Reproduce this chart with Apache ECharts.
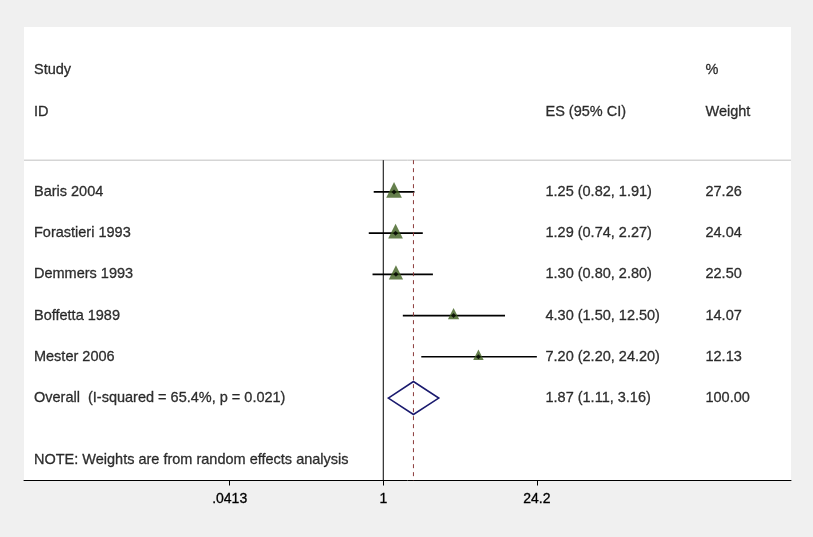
<html>
<head>
    <meta http-equiv="Content-Type" content="text/html; charset=utf-8" />
    <title>Forest plot</title>
    <style>
        html, body { margin: 0; padding: 0; background: #f0f0f0; }
        #container { width: 813px; height: 537px; }
    </style>
</head>
<body>
    <div id="container"></div>
    <script src="https://cdn.jsdelivr.net/npm/echarts@6/dist/echarts.min.js"></script>
    <script type="text/javascript">
    // study rows
    var studies = ['Baris 2004', 'Forastieri 1993', 'Demmers 1993', 'Boffetta 1989', 'Mester 2006'];
    var es = [1.25, 1.29, 1.30, 4.30, 7.20];
    var ciLow = [0.82, 0.74, 0.80, 1.50, 2.20];
    var ciHigh = [1.91, 2.27, 2.80, 12.50, 24.20];
    var weights = [27.26, 24.04, 22.50, 14.07, 12.13];

    // pooled estimate
    var overallLabel = 'Overall  (I-squared = 65.4%, p = 0.021)';
    var overallEs = 1.87;
    var overallLow = 1.11;
    var overallHigh = 3.16;
    var overallWeight = 100.00;

    var tickValues = [0.0413, 1, 24.2];
    var tickLabels = ['.0413', '1', '24.2'];

    var noteText = 'NOTE: Weights are from random effects analysis';

    // layout (x in ln units, y in row units)
    var colStudy = -7.247, colEs = 3.365, colWeight = 6.685;
    var headRow1 = -1.95, headRow2 = -0.95;
    var sepRow = 0.23, overallRow = studies.length + 1, noteRow = 7.5;
    var font = 'Liberation Sans, Arial, sans-serif';
    var fontSize = 14.5;

    var ln = Math.log;
    function fmtCi(e, l, h) {
        return e.toFixed(2) + ' (' + l.toFixed(2) + ', ' + h.toFixed(2) + ')';
    }

    var textData = [
        [colStudy, headRow1, 'Study'], [colWeight, headRow1, '%'],
        [colStudy, headRow2, 'ID'], [colEs, headRow2, 'ES (95% CI)'], [colWeight, headRow2, 'Weight']
    ];
    var ciData = [], markData = [];
    for (var i = 0; i < studies.length; i++) {
        var row = i + 1;
        textData.push([colStudy, row, studies[i]]);
        textData.push([colEs, row, fmtCi(es[i], ciLow[i], ciHigh[i])]);
        textData.push([colWeight, row, weights[i].toFixed(2)]);
        ciData.push([ln(ciLow[i]), ln(ciHigh[i]), row]);
        markData.push({ value: [ln(es[i]), row], symbolSize: 3 * Math.sqrt(weights[i]) });
    }
    textData.push([colStudy, overallRow, overallLabel]);
    textData.push([colEs, overallRow, fmtCi(overallEs, overallLow, overallHigh)]);
    textData.push([colWeight, overallRow, overallWeight.toFixed(2)]);
    textData.push([colStudy, noteRow, noteText]);

    var myChart = echarts.init(document.getElementById('container'));

    myChart.setOption({
        backgroundColor: '#f0f0f0',
        animation: false,
        textStyle: { fontFamily: font },
        grid: {
            left: 24, right: 22, top: 27, bottom: 56.5,
            show: true, backgroundColor: '#ffffff', borderWidth: 0
        },
        xAxis: {
            type: 'value',
            min: -7.454,
            max: 8.459,
            splitLine: { show: false },
            axisLine: { onZero: false, lineStyle: { color: '#000', width: 1 } },
            axisTick: {
                length: 5,
                lineStyle: { color: '#000' },
                customValues: tickValues.map(ln)
            },
            axisLabel: {
                customValues: tickValues.map(ln),
                color: '#000',
                fontSize: 14,
                fontFamily: font,
                margin: 12,
                textBorderColor: '#000',
                textBorderWidth: 0.3,
                formatter: function(v) {
                    var best = 0;
                    for (var k = 0; k < tickValues.length; k++) {
                        if (Math.abs(ln(tickValues[k]) - v) < Math.abs(ln(tickValues[best]) - v)) best = k;
                    }
                    return tickLabels[best];
                }
            }
        },
        yAxis: {
            type: 'value',
            inverse: true,
            min: -3,
            max: 8,
            show: false
        },
        series: [
            {
                // header separator
                type: 'line', silent: true, symbol: 'none',
                lineStyle: { color: '#c0c0c0', width: 1 },
                data: [[-7.454, sepRow], [8.459, sepRow]]
            },
            {
                // null line
                type: 'line', silent: true, symbol: 'none',
                lineStyle: { color: '#000', width: 1 },
                data: [[ln(1), sepRow], [ln(1), 8]]
            },
            {
                // overall effect line
                type: 'line', silent: true, symbol: 'none',
                lineStyle: { color: '#8b3a3a', width: 1, type: [4, 4] },
                data: [[ln(overallEs), sepRow], [ln(overallEs), 8]]
            },
            {
                type: 'custom', silent: true,
                data: ciData,
                renderItem: function(params, api) {
                    var a = api.coord([api.value(0), api.value(2)]);
                    var b = api.coord([api.value(1), api.value(2)]);
                    return {
                        type: 'line',
                        shape: { x1: a[0], y1: a[1], x2: b[0], y2: b[1] },
                        style: { stroke: '#000', lineWidth: 1.6 }
                    };
                }
            },
            {
                type: 'scatter', silent: true,
                symbol: 'triangle',
                symbolOffset: [0, -2],
                itemStyle: { color: '#3f5f1f' },
                data: markData
            },
            {
                type: 'scatter', silent: true,
                symbol: 'diamond', symbolSize: 5,
                itemStyle: { color: '#000' },
                data: markData.map(function(d) { return d.value; })
            },
            {
                // pooled diamond
                type: 'custom', silent: true,
                data: [[ln(overallLow), ln(overallEs), ln(overallHigh), overallRow]],
                renderItem: function(params, api) {
                    var r = api.value(3);
                    var pts = [
                        api.coord([api.value(0), r]),
                        api.coord([api.value(1), r - 0.4]),
                        api.coord([api.value(2), r]),
                        api.coord([api.value(1), r + 0.4])
                    ];
                    return {
                        type: 'polygon',
                        shape: { points: pts },
                        style: { fill: 'none', stroke: '#1a1a6e', lineWidth: 1.6 }
                    };
                }
            },
            {
                // text columns
                type: 'scatter', silent: true,
                symbolSize: 1,
                itemStyle: { color: 'rgba(0,0,0,0)' },
                data: textData,
                label: {
                    show: true,
                    position: 'inside',
                    align: 'left',
                    verticalAlign: 'middle',
                    color: '#000',
                    textBorderColor: '#000',
                    textBorderWidth: 0.3,
                    fontSize: fontSize,
                    fontFamily: font,
                    formatter: function(p) { return p.value[2]; }
                }
            }
        ]
    });
    </script>
</body>
</html>
